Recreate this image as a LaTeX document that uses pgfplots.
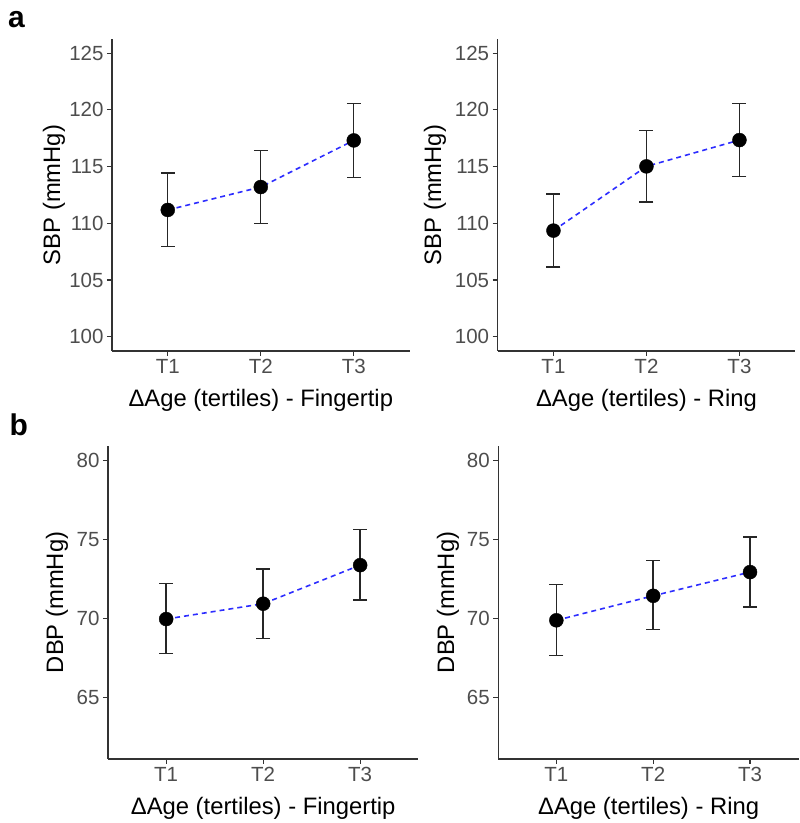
\documentclass[border=0pt]{standalone}
\usepackage{pgfplots}
\pgfplotsset{compat=1.18}
\usepackage{pgfplotstable}
\usepackage{fontspec}
\setmainfont{Liberation Sans}
\definecolor{tickgrey}{HTML}{4D4D4D}
\definecolor{axgrey}{HTML}{333333}
\definecolor{lineblue}{RGB}{45,45,255}

\pgfplotstableread{
x y lo hi
1 111.18 107.95 114.44
2 113.20 109.97 116.43
3 117.31 114.03 120.57
}\sbpfinger
\pgfplotstableread{
x y lo hi
1 109.36 106.16 112.59
2 115.02 111.88 118.16
3 117.34 114.14 120.56
}\sbpring
\pgfplotstableread{
x y lo hi
1 69.95 67.78 72.18
2 70.92 68.73 73.11
3 73.36 71.15 75.60
}\dbpfinger
\pgfplotstableread{
x y lo hi
1 69.87 67.65 72.14
2 71.42 69.30 73.66
3 72.92 70.71 75.15
}\dbpring

\pgfplotsset{
  ggstyle/.style={
    scale only axis,
    axis x line*=bottom, axis y line*=left,
    x axis line style={-, line width=1.3pt, draw=axgrey},
    y axis line style={-, line width=1.3pt, draw=axgrey},
    tick align=outside, major tick length=5pt,
    tick style={line width=1.2pt, draw=axgrey},
    xmin=0.4, xmax=3.6,
    xtick={1,2,3}, xticklabels={T1,T2,T3},
    ticklabel style={font=\fontsize{20.5}{24}\selectfont, text=tickgrey},
    label style={font=\fontsize{23.8}{27}\selectfont, text=black},
    xlabel style={at={(axis description cs:0.5,0)}, anchor=base, yshift=-55.8pt},
    /pgf/number format/assume math mode=true,
    yticklabel style={/pgf/number format/fixed},
    clip=false,
  },
  ebar/.style={draw=none, mark=none, forget plot,
    error bars/.cd, y dir=both, y explicit,
    error bar style={draw=black!85, line width=1.4pt, solid},
    error mark options={rotate=90, mark size=7pt, draw=black!85, line width=1.4pt, solid}},
  pts/.style={only marks, mark=*, mark size=7pt, draw=black, fill=black},
  dline/.style={no marks, draw=lineblue, line width=1.6pt, dash pattern=on 5pt off 4pt},
}

\newcommand{\panel}[1]{%
  \addplot[ebar] table[x=x, y=y, y error plus expr=\thisrow{hi}-\thisrow{y}, y error minus expr=\thisrow{y}-\thisrow{lo}] {#1};
  \addplot[pts] table[x=x, y=y] {#1};
  \addplot[dline] table[x=x, y=y] {#1};
}

\begin{document}
\begin{tikzpicture}
\path (0pt,0pt) rectangle (799pt,823pt);

\node[anchor=base west, font=\bfseries\fontsize{30}{34}\selectfont, inner sep=0pt] at (8pt,795pt) {a};
\node[anchor=base west, font=\bfseries\fontsize{30}{34}\selectfont, inner sep=0pt] at (9.5pt,387.5pt) {b};

\begin{axis}[ggstyle, at={(112pt,472pt)}, anchor=south west, width=297.6pt, height=312pt,
  ymin=98.75, ymax=126.25, ytick={100,105,110,115,120,125},
  ylabel style={at={(axis description cs:-0.195,0.5)}, anchor=center, rotate=0},
  ylabel={SBP (mmHg)}, xlabel={ΔAge (tertiles) - Fingertip}]
\panel{\sbpfinger}
\end{axis}

\begin{axis}[ggstyle, at={(497.7pt,472pt)}, anchor=south west, width=297.6pt, height=312pt,
  ymin=98.75, ymax=126.25, ytick={100,105,110,115,120,125},
  ylabel style={at={(axis description cs:-0.211,0.5)}, anchor=center, rotate=0},
  ylabel={SBP (mmHg)}, xlabel={ΔAge (tertiles) - Ring}]
\panel{\sbpring}
\end{axis}

\begin{axis}[ggstyle, at={(108pt,64pt)}, anchor=south west, width=310.4pt, height=313pt,
  ymin=61.1, ymax=80.9, ytick={65,70,75,80},
  ylabel style={at={(axis description cs:-0.164,0.5)}, anchor=center, rotate=0},
  ylabel={DBP (mmHg)}, xlabel={ΔAge (tertiles) - Fingertip}]
\panel{\dbpfinger}
\end{axis}

\begin{axis}[ggstyle, at={(498.3pt,64pt)}, anchor=south west, width=300.7pt, height=313pt,
  xmax=3.505,
  ymin=61.1, ymax=80.9, ytick={65,70,75,80},
  ylabel style={at={(axis description cs:-0.167,0.5)}, anchor=center, rotate=0},
  ylabel={DBP (mmHg)}, xlabel={ΔAge (tertiles) - Ring}]
\panel{\dbpring}
\end{axis}
\end{tikzpicture}
\end{document}
